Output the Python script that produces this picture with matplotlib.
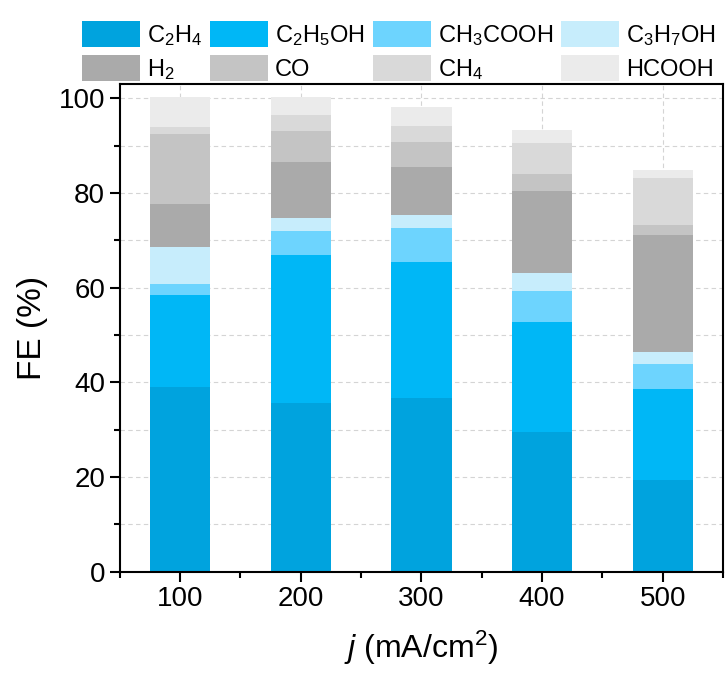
import numpy as np
import matplotlib
matplotlib.use("Agg")
import matplotlib.pyplot as plt
from matplotlib.ticker import MultipleLocator

plt.rcParams["font.family"] = ["Liberation Sans", "DejaVu Sans"]
plt.rcParams["mathtext.fontset"] = "custom"
plt.rcParams["mathtext.rm"] = "Liberation Sans"
plt.rcParams["mathtext.it"] = "Liberation Sans:italic"

# --------- data (FE %) ---------
current = [100, 200, 300, 400, 500]
products = ["C$_2$H$_4$", "C$_2$H$_5$OH", "CH$_3$COOH", "C$_3$H$_7$OH",
            "H$_2$", "CO", "CH$_4$", "HCOOH"]
c2h4 = [39.1, 35.6, 36.6, 29.5, 19.4]
c2h5oh = [19.3, 31.4, 28.8, 23.3, 19.1]
ch3cooh = [2.4, 5.0, 7.2, 6.5, 5.3]
c3h7oh = [7.8, 2.7, 2.8, 3.9, 2.6]
h2 = [9.0, 11.8, 10.1, 17.2, 24.7]
co = [14.8, 6.6, 5.3, 3.6, 2.2]
ch4 = [1.6, 3.3, 3.4, 6.5, 9.9]
hcooh = [6.3, 3.9, 4.0, 2.9, 1.7]
colors = ["#00A3DE", "#00B7F6", "#6DD4FE", "#C7EDFC",
          "#AAAAAA", "#C4C4C4", "#D9D9D9", "#EBEBEB"]

series = [c2h4, c2h5oh, ch3cooh, c3h7oh, h2, co, ch4, hcooh]

fig = plt.figure(figsize=(7.26, 6.79), dpi=100)
ax = fig.add_axes([0.165, 0.158, 0.831, 0.718])

bottom = np.zeros(len(current))
for vals, lab, col in zip(series, products, colors):
    ax.bar(current, vals, width=50, bottom=bottom, color=col, label=lab,
           zorder=2, linewidth=0)
    bottom += np.array(vals)

ax.set_xlim(50, 550)
ax.set_ylim(0, 103)
ax.set_xticks(current)
ax.set_yticks([0, 20, 40, 60, 80, 100])
ax.xaxis.set_minor_locator(MultipleLocator(50))
ax.yaxis.set_minor_locator(MultipleLocator(10))
ax.tick_params(which="major", direction="out", length=7, width=1.5, labelsize=20)
ax.tick_params(which="minor", direction="out", length=4, width=1.5)
for s in ax.spines.values():
    s.set_linewidth(1.5)

ax.grid(axis="y", which="both", linestyle=(0, (4, 3)), color="#d4d4d4", linewidth=0.8, zorder=0)
ax.grid(axis="x", which="major", linestyle=(0, (4, 3)), color="#d4d4d4", linewidth=0.8, zorder=0)
ax.set_axisbelow(True)

ax.set_ylabel("FE (%)", fontsize=24, labelpad=8)
ax.set_xlabel("$j$ (mA/cm$^2$)", fontsize=23, labelpad=12)

# row-major legend order (matplotlib fills columns first)
handles, labels = ax.get_legend_handles_labels()
order = [0, 4, 1, 5, 2, 6, 3, 7]
ax.legend([handles[i] for i in order], [labels[i] for i in order],
          loc="lower left", bbox_to_anchor=(-0.063, 1.005), ncol=4, frameon=False,
          fontsize=17, handlelength=2.45, handleheight=1.3, handletextpad=0.3,
          columnspacing=0.35, labelspacing=0.3, borderpad=0, borderaxespad=0)

fig.savefig("out.png", dpi=100)
